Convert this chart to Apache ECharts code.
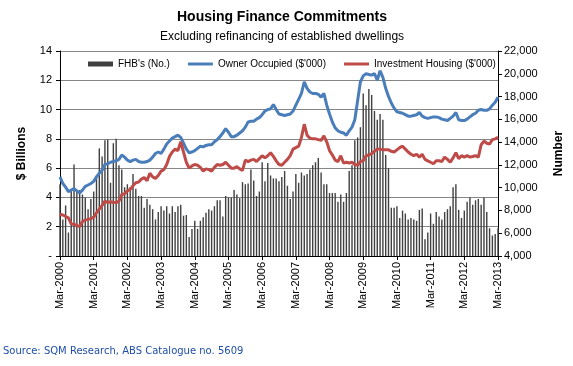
<!DOCTYPE html>
<html>
<head>
<meta charset="utf-8">
<script src="https://cdn.jsdelivr.net/npm/echarts@6/dist/echarts.min.js"></script>
<style>
html,body{margin:0;padding:0;background:#fff;}
#chart{width:573px;height:366px;}
</style>
</head>
<body>
<div id="chart"></div>
<script>
// Month labels Mar-2000 .. Mar-2013
var monthNames = ['Jan','Feb','Mar','Apr','May','Jun','Jul','Aug','Sep','Oct','Nov','Dec'];
var categories = [];
for (var k = 0; k < 157; k++) {
  var m = (2 + k) % 12, y = 2000 + Math.floor((2 + k) / 12);
  categories.push(monthNames[m] + '-' + y);
}

// First home buyers (number of commitments) - right axis
var fhbCount = [10300,7210,8440,6060,9790,12040,9660,9790,9400,9140,
8110,9010,9660,11070,13450,12740,14160,14220,10430,13900,
14290,11970,11590,10040,10300,10040,11200,9910,9270,9270,
8240,9010,8500,8110,7210,7860,8370,7990,8370,7730,
8370,7860,8370,8500,7540,7600,5670,6380,7090,6380,
7090,7410,7790,8110,7990,8370,8890,8890,7470,9270,
9140,9140,9790,9400,9080,10490,10300,10360,11590,10620,
9270,9660,12230,10560,12160,11070,10810,10810,10560,10940,
11460,10170,9010,9660,11200,10430,11330,11070,11200,11590,
11970,12230,12610,11330,10300,10300,9530,9530,9530,8760,
9400,8760,9530,11460,11970,14160,14410,15310,18270,17240,
18660,18140,16730,15960,16470,15960,12870,11710,8240,8240,
8370,7340,7990,7730,7210,7340,7210,7090,8050,8180,
5480,6060,7730,6830,7860,7470,7210,7860,8110,8370,
10040,10300,8050,7340,7990,8760,9140,8500,8890,9010,
8500,9140,7860,6440,5800,5930,6440];

// Owner occupied ($ billions) - left axis
var ownerOccupied = [5.40,4.95,4.70,4.40,4.50,4.60,4.45,4.30,4.50,4.75,
4.85,4.95,5.10,5.40,5.65,5.85,6.25,6.30,6.40,6.45,
6.50,6.60,6.90,6.75,6.55,6.45,6.55,6.60,6.45,6.40,
6.40,6.45,6.55,6.75,7.00,7.10,7.00,7.30,7.65,7.85,
8.05,8.15,8.25,8.10,7.70,7.30,7.05,7.10,7.20,7.35,
7.50,7.45,7.55,7.60,7.60,7.80,7.95,8.15,8.40,8.70,
8.45,8.15,8.15,8.25,8.40,8.55,8.80,9.15,9.20,9.20,
9.35,9.45,9.65,9.90,10.00,10.05,10.35,10.00,9.70,9.65,
9.60,9.65,9.70,9.90,10.30,10.70,11.10,11.90,11.45,11.20,
11.10,11.10,11.05,10.85,11.10,10.30,9.70,9.15,8.75,8.55,
8.45,8.40,8.25,8.55,8.80,9.30,10.60,11.90,12.30,12.45,
12.40,12.35,12.45,12.00,12.65,12.20,11.45,10.90,10.45,10.10,
9.85,9.80,9.75,9.65,9.55,9.55,9.60,9.65,9.80,9.55,
9.45,9.40,9.45,9.50,9.50,9.45,9.35,9.30,9.25,9.40,
9.55,9.80,9.30,9.25,9.25,9.35,9.50,9.65,9.75,9.95,
10.00,9.95,9.95,10.05,10.30,10.50,10.85];

// Investment housing ($ billions) - left axis
var investmentHousing = [2.85,2.80,2.70,2.60,2.20,2.15,2.10,2.00,2.35,2.45,
2.50,2.55,2.65,2.95,3.20,3.45,3.75,3.65,3.70,3.65,
3.65,3.75,4.20,4.25,4.45,4.55,4.80,5.00,5.05,5.25,
5.35,5.15,5.65,5.40,5.30,5.50,5.80,5.90,6.25,6.80,
7.10,7.30,7.20,7.80,7.10,6.40,6.00,6.15,6.25,6.20,
6.05,5.80,5.95,5.90,5.80,6.05,6.25,6.20,6.25,6.40,
6.20,6.00,6.00,6.10,5.95,5.85,6.55,6.45,6.55,6.60,
6.45,6.65,6.85,6.70,6.85,7.05,6.80,6.50,6.25,6.20,
6.40,6.60,6.85,7.30,7.40,7.50,8.10,9.00,8.25,8.05,
8.00,8.00,7.95,7.90,8.20,7.80,7.20,6.90,6.55,6.45,
6.85,6.35,6.40,6.35,6.40,6.25,6.20,6.45,6.50,6.85,
6.90,7.00,7.15,7.30,7.30,7.25,7.25,7.25,7.15,7.10,
7.25,7.40,7.50,7.30,7.10,6.95,6.85,6.95,6.75,6.95,
6.60,6.50,6.40,6.30,6.50,6.50,6.45,6.75,6.60,6.40,
6.70,7.05,6.65,6.85,6.75,6.85,6.75,6.80,6.85,6.75,
7.60,7.85,7.70,7.65,7.95,8.00,8.10];

var leftTicks = {min: 0, max: 14, interval: 2};
var rightTicks = {min: 4000, max: 22000, interval: 2000};

var FONT = 'Liberation Sans, Arial, sans-serif';
var chart = echarts.init(document.getElementById('chart'), null, {renderer: 'canvas'});

function fmtThousands(v) {
  return String(v).replace(/\B(?=(\d{3})+(?!\d))/g, ',');
}

var lineIcon = 'path://M0,0 L25,0 L25,3 L0,3 Z';

var option = {
  animation: false,
  backgroundColor: '#ffffff',
  textStyle: {fontFamily: FONT},
  graphic: [
    {type: 'text', x: 282, y: 10, style: {text: 'Housing Finance Commitments', font: 'bold 14px ' + FONT, fill: '#000', textAlign: 'center'}},
    {type: 'text', x: 282, y: 31, style: {text: 'Excluding refinancing of established dwellings', font: '12px ' + FONT, fill: '#000', textAlign: 'center'}},
    {type: 'text', x: 3, y: 346, style: {text: 'Source: SQM Research, ABS Catalogue no. 5609', font: '10px DejaVu Sans, sans-serif', fill: '#1F4FA8'}}
  ],
  legend: {
    left: 88, top: 59,
    itemGap: 18, itemWidth: 25, itemHeight: 5,
    padding: 0,
    textStyle: {fontSize: 10, color: '#000', fontFamily: FONT},
    data: [
      {name: "FHB's (No.)", icon: 'rect'},
      {name: "Owner Occupied ($'000)", icon: lineIcon},
      {name: "Investment Housing ($'000)", icon: lineIcon}
    ]
  },
  grid: {left: 60, right: 70, top: 51, bottom: 110, containLabel: false},
  xAxis: {
    type: 'category',
    data: categories,
    boundaryGap: false,
    axisLine: {show: true, lineStyle: {color: '#000', width: 1}},
    axisTick: {show: true, interval: 11, length: 4, lineStyle: {color: '#000'}},
    axisLabel: {interval: 11, rotate: 90, fontSize: 11, color: '#000', margin: 6, fontFamily: FONT},
    splitLine: {show: false}
  },
  yAxis: [
    {
      type: 'value', position: 'left',
      min: leftTicks.min, max: leftTicks.max, interval: leftTicks.interval,
      name: '$ Billions', nameLocation: 'middle', nameGap: 32, nameRotate: 90,
      nameTextStyle: {fontSize: 12, fontWeight: 'bold', color: '#000', fontFamily: FONT},
      axisLine: {show: true, lineStyle: {color: '#000', width: 1}},
      axisTick: {show: true, length: 4, lineStyle: {color: '#000'}},
      axisLabel: {fontSize: 11, color: '#000', margin: 8, fontFamily: FONT,
        formatter: function (v) { return v === 0 ? '-' : String(v); }},
      splitLine: {show: true, lineStyle: {color: '#868686', width: 1}}
    },
    {
      type: 'value', position: 'right',
      min: rightTicks.min, max: rightTicks.max, interval: rightTicks.interval,
      name: 'Number', nameLocation: 'middle', nameGap: 55, nameRotate: 90,
      nameTextStyle: {fontSize: 12, fontWeight: 'bold', color: '#000', fontFamily: FONT},
      axisLine: {show: true, lineStyle: {color: '#000', width: 1}},
      axisTick: {show: true, length: 4, lineStyle: {color: '#000'}},
      axisLabel: {fontSize: 11, color: '#000', margin: 6, fontFamily: FONT, formatter: fmtThousands},
      splitLine: {show: false}
    }
  ],
  series: [
    {
      name: "FHB's (No.)", type: 'bar', yAxisIndex: 1, data: fhbCount,
      barWidth: 1.4, clip: true,
      itemStyle: {color: '#404040'}
    },
    {
      name: "Owner Occupied ($'000)", type: 'line', yAxisIndex: 0, data: ownerOccupied,
      symbol: 'none', lineStyle: {color: '#4A7EBB', width: 3}, itemStyle: {color: '#4A7EBB'}
    },
    {
      name: "Investment Housing ($'000)", type: 'line', yAxisIndex: 0, data: investmentHousing,
      symbol: 'none', lineStyle: {color: '#BE4B48', width: 3}, itemStyle: {color: '#BE4B48'}
    }
  ]
};
chart.setOption(option);
</script>
</body>
</html>
